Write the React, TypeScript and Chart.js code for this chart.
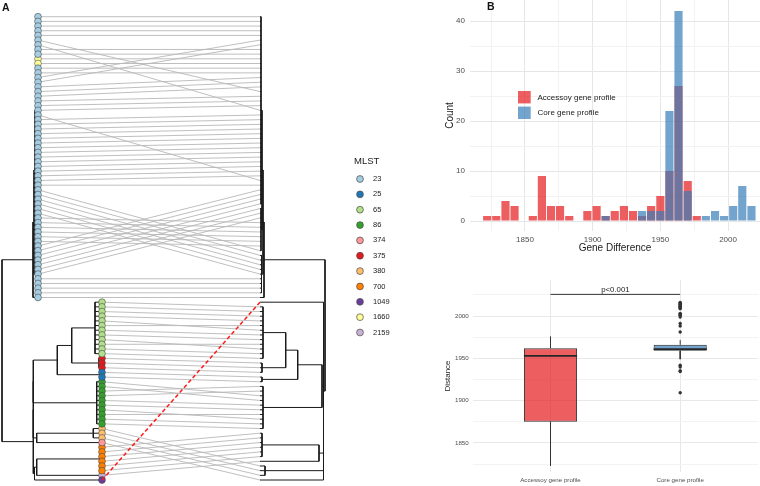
import React, { useEffect, useRef } from 'react';
import { Chart, registerables } from 'chart.js';

Chart.register(...registerables);

const FONT = '"Liberation Sans", Arial, Helvetica, sans-serif';

// ---------------- Panel B (top): histogram of gene differences ----------------
const binCenters = [1822.1, 1828.8, 1835.6, 1842.3, 1849.0, 1855.8, 1862.5, 1869.2, 1875.9, 1882.7, 1889.4, 1896.1, 1902.9, 1909.6, 1916.3, 1923.1, 1929.8, 1936.5, 1943.2, 1950.0, 1956.7, 1963.4, 1970.2, 1976.9, 1983.6, 1990.4, 1997.1, 2003.8, 2010.5, 2017.3];
const accessoryCounts = [1, 1, 4, 3, 0, 1, 9, 3, 3, 1, 0, 2, 3, 1, 2, 3, 2, 1, 3, 5, 10, 27, 8, 1, 0, 0, 0, 0, 0, 0];
const coreCounts = [0, 0, 0, 0, 0, 0, 0, 0, 0, 0, 0, 0, 0, 1, 0, 0, 0, 2, 2, 2, 22, 42, 6, 0, 1, 2, 1, 3, 7, 3];
const histXTickLabels = [1850, 1900, 1950, 2000];
const histYTickLabels = [0, 10, 20, 30, 40];
const seriesNames = ['Accessoy gene profile', 'Core gene profile'];

// ---------------- Panel B (bottom): boxplot of distances ----------------
const boxGroups = ['Accessoy gene profile', 'Core gene profile'];
const boxQ1 = [1875, 1959];
const boxMedian = [1953, 1960.8];
const boxQ3 = [1962, 1966];
const whiskerLow = [1823, 1949];
const whiskerHigh = [1976, 1971.5];
const coreOutliers = [2016.2, 2015.0, 2013.8, 2012.8, 2011.8, 2011.0, 2010.4, 2009.5, 2008.6, 2003.2, 2002.0, 2000.8, 1998.8, 1991.3, 1988.2, 1981.1, 1941.8, 1939.7, 1935.4, 1934.3, 1909.3];
const boxYTickLabels = [1850, 1900, 1950, 2000];
const pValueLabel = 'p<0.001';
const pBracketY = 2025.6;
const pLabelY = 2031.5;

// ---------------- Panel A: tanglegram ----------------
const mlstTypes = ['23', '25', '65', '86', '374', '375', '380', '700', '1049', '1660', '2159'];
const mlstColors = ['#A6CEE3', '#1F78B4', '#B2DF8A', '#33A02C', '#FB9A99', '#E31A1C', '#FDBF6F', '#FF7F00', '#6A3D9A', '#FFFF99', '#CAB2D6'];
// MLST of the left-tree tips, top to bottom (run length: type, count)
const tipRuns: [string, number][] = [['23', 9], ['1660', 2], ['23', 50], ['65', 12], ['375', 3], ['25', 2], ['86', 10], ['380', 3], ['374', 1], ['700', 6], ['2159', 1], ['1049', 1]];
// left tip index found at each position of the right tree (top to bottom)
const rightOrder = [
  0, 1, 2, 3, 4, 13, 14, 7, 8, 9, 10, 11, 12, 15, 16, 17, 5, 18, 19, 20,
  6, 22, 23, 24, 25, 26, 27, 28, 29, 30, 31, 32, 33, 34, 35, 21, 36, 49, 50, 51,
  52, 53, 54, 55, 43, 44, 45, 46, 47, 48, 37, 38, 39, 40, 41, 42, 56, 57, 58, 59,
  60, 99, 61, 62, 63, 64, 66, 65, 67, 68, 70, 69, 71, 72, 73, 74, 75, 76, 77, 80,
  81, 78, 79, 82, 83, 85, 84, 86, 87, 92, 93, 94, 95, 96, 97, 98, 88, 89, 90, 91,
];
const highlightedTip = 99;

type Child = number | TreeNode;
interface TreeNode { x: number; c: Child[]; t?: number }
const nd = (x: number, c: Child[], t?: number): TreeNode => ({ x, c, t });
const tipRange = (a: number, b: number): number[] => {
  const r: number[] = [];
  for (let k = a; k <= b; k++) r.push(k);
  return r;
};

// left phylogram (root on the left); x = node depth, t = depth of its leaves
const leftTree = nd(2, [
  nd(33, [
    nd(34, [
      nd(35, [nd(36, tipRange(0, 40), 38), nd(36.5, tipRange(41, 50), 38)]),
      nd(35.5, tipRange(51, 59), 38),
    ]),
    60,
  ], 38),
  nd(33.3, [
    nd(33.3, [
      nd(33.3, [
        nd(57.3, [
          nd(71.7, [nd(95, tipRange(61, 72), 102), nd(99, tipRange(73, 75), 102)]),
          nd(100, tipRange(76, 77), 102),
        ]),
        nd(96.7, tipRange(78, 87), 102),
      ]),
      nd(36.7, [nd(93.3, tipRange(88, 90), 102), 91], 102),
    ]),
    nd(34.5, [nd(36.7, [nd(100, tipRange(92, 97), 102), 98], 102), 99], 102),
  ]),
]);

// right dendrogram (leaves on the left at 260, root on the right)
const rightTree = nd(325, [
  nd(264, [
    nd(263, [
      nd(262, [nd(261, tipRange(0, 40), 260), nd(261, tipRange(41, 50), 260)]),
      nd(261.5, tipRange(51, 59), 260),
    ]),
    60,
  ], 260),
  nd(323.5, [
    61,
    nd(322, [
      nd(297.7, [
        nd(285.7, [nd(263, tipRange(62, 73), 260), nd(262, tipRange(74, 76), 260)]),
        nd(262, tipRange(77, 78), 260),
      ]),
      nd(263, tipRange(79, 88), 260),
    ]),
    nd(319, [nd(262, tipRange(89, 94), 260), 95], 260),
    nd(265, tipRange(96, 98), 260),
    99,
  ], 260),
]);

type Pt = { x: number | null; y: number | null };

function layoutTree(n: TreeNode, segs: Pt[], leafX: Map<number, number>): { x: number; y: number } {
  const kids = n.c.map((ch) => {
    if (typeof ch === 'number') {
      const lx = n.t ?? n.x;
      leafX.set(ch, lx);
      return { x: lx, y: ch };
    }
    return layoutTree(ch, segs, leafX);
  });
  const ys = kids.map((k) => k.y);
  const y0 = Math.min(...ys);
  const y1 = Math.max(...ys);
  segs.push({ x: n.x, y: y0 }, { x: n.x, y: y1 }, { x: null, y: null });
  kids.forEach((k) => {
    if (k.x !== n.x) segs.push({ x: n.x, y: k.y }, { x: k.x, y: k.y }, { x: null, y: null });
  });
  return { x: n.x, y: (y0 + y1) / 2 };
}

const RED = 'rgba(228,26,28,0.7)';
const BLUE = 'rgba(55,126,184,0.7)';

const zeroPad = (s: any) => {
  s.paddingTop = 0;
  s.paddingBottom = 0;
  s.paddingLeft = 0;
  s.paddingRight = 0;
};

const mlstLegendPlugin = {
  id: 'mlstLegend',
  afterDraw(chart: any) {
    const ctx = chart.ctx as CanvasRenderingContext2D;
    ctx.save();
    ctx.textBaseline = 'middle';
    ctx.fillStyle = '#1a1a1a';
    ctx.font = `9.5px ${FONT}`;
    ctx.fillText('MLST', 354, 161.5);
    mlstTypes.forEach((t, k) => {
      const y = 179 + k * 15.35;
      ctx.beginPath();
      ctx.arc(360, y, 3.4, 0, Math.PI * 2);
      ctx.fillStyle = mlstColors[k];
      ctx.fill();
      ctx.lineWidth = 0.7;
      ctx.strokeStyle = '#4a4a4a';
      ctx.stroke();
      ctx.fillStyle = '#1a1a1a';
      ctx.font = `7.5px ${FONT}`;
      ctx.fillText(t, 373, y);
    });
    ctx.restore();
  },
};

const histLegendPlugin = {
  id: 'histLegend',
  afterDraw(chart: any) {
    const ctx = chart.ctx as CanvasRenderingContext2D;
    const left = chart.chartArea.left;
    ctx.save();
    ctx.textBaseline = 'middle';
    [RED, BLUE].forEach((c, k) => {
      const y = 91 + k * 15.6;
      ctx.fillStyle = c;
      ctx.fillRect(left + 48, y, 12.7, 12.4);
      ctx.fillStyle = '#1a1a1a';
      ctx.font = `8px ${FONT}`;
      ctx.fillText(seriesNames[k], left + 67.5, y + 6.3);
    });
    ctx.restore();
  },
};

const pLabelPlugin = {
  id: 'pLabel',
  afterDatasetsDraw(chart: any) {
    const ctx = chart.ctx as CanvasRenderingContext2D;
    const x = chart.scales.x.getPixelForValue(1.5);
    const y = chart.scales.y.getPixelForValue(pLabelY);
    ctx.save();
    ctx.textAlign = 'center';
    ctx.textBaseline = 'middle';
    ctx.fillStyle = '#1a1a1a';
    ctx.font = `7.8px ${FONT}`;
    ctx.fillText(pValueLabel, x, y);
    ctx.restore();
  },
};

export default function App() {
  const treeRef = useRef<HTMLCanvasElement>(null);
  const histRef = useRef<HTMLCanvasElement>(null);
  const boxRef = useRef<HTMLCanvasElement>(null);

  useEffect(() => {
    const charts: Chart[] = [];

    // ---------- tanglegram ----------
    const tipType: string[] = [];
    tipRuns.forEach(([t, n]) => { for (let k = 0; k < n; k++) tipType.push(t); });
    const leftSegs: Pt[] = [];
    const leftX = new Map<number, number>();
    layoutTree(leftTree, leftSegs, leftX);
    const rightSegs: Pt[] = [];
    const rightX = new Map<number, number>();
    layoutTree(rightTree, rightSegs, rightX);

    const links: Pt[] = [];
    const redLink: Pt[] = [];
    rightOrder.forEach((i, p) => {
      const seg = [{ x: leftX.get(i) as number, y: i }, { x: rightX.get(p) as number, y: p }];
      if (i === highlightedTip) redLink.push(...seg);
      else links.push(...seg, { x: null, y: null });
    });

    const tipDatasets = mlstTypes.map((t, k) => ({
      type: 'scatter' as const,
      label: t,
      data: tipType.map((tt, i) => (tt === t ? { x: leftX.get(i) as number, y: i } : null)).filter(Boolean),
      backgroundColor: mlstColors[k],
      borderColor: '#4a4a4a',
      borderWidth: 0.6,
      pointRadius: 3.4,
      order: 1,
    }));

    const lineDs = (data: Pt[], color: string, width: number, order: number, dash: number[] = []) => ({
      type: 'scatter' as const,
      data,
      showLine: true,
      spanGaps: false,
      borderColor: color,
      borderWidth: width,
      borderDash: dash,
      pointRadius: 0,
      pointHoverRadius: 0,
      order,
    });

    charts.push(new Chart(treeRef.current as HTMLCanvasElement, {
      type: 'scatter',
      data: {
        datasets: [
          lineDs(links, '#b8b8b8', 0.9, 4),
          lineDs(leftSegs, '#1a1a1a', 1, 3),
          lineDs(rightSegs, '#1a1a1a', 1, 3),
          ...tipDatasets,
          lineDs(redLink, '#ff1a1a', 1.5, 0, [4, 2.5]),
        ] as any,
      },
      options: {
        responsive: false,
        animation: false,
        events: [],
        layout: { padding: 0, autoPadding: false },
        plugins: { legend: { display: false }, tooltip: { enabled: false } },
        scales: {
          x: { type: 'linear', display: false, min: 0, max: 440 },
          y: { type: 'linear', display: false, reverse: true, min: -3.57, max: 100.28 },
        },
      } as any,
      plugins: [mlstLegendPlugin],
    }));

    // ---------- histogram ----------
    charts.push(new Chart(histRef.current as HTMLCanvasElement, {
      type: 'bar',
      data: {
        datasets: [
          {
            label: seriesNames[0],
            data: binCenters.map((x, k) => ({ x, y: accessoryCounts[k] })),
            backgroundColor: RED,
            borderWidth: 0,
            grouped: false,
            barPercentage: 0.9,
            categoryPercentage: 1,
            order: 1,
          },
          {
            label: seriesNames[1],
            data: binCenters.map((x, k) => ({ x, y: coreCounts[k] })),
            backgroundColor: BLUE,
            borderWidth: 0,
            grouped: false,
            barPercentage: 0.9,
            categoryPercentage: 1,
            order: 0,
          },
        ] as any,
      },
      options: {
        responsive: false,
        animation: false,
        events: [],
        layout: { padding: 0, autoPadding: false },
        plugins: { legend: { display: false }, tooltip: { enabled: false } },
        scales: {
          x: {
            type: 'linear',
            min: 1809.4,
            max: 2023.6,
            offset: false,
            border: { display: false },
            grid: {
              offset: false,
              drawTicks: false,
              color: (c: any) => (histXTickLabels.includes(c.tick.value) ? '#e6e6e6' : '#f2f2f2'),
            },
            ticks: {
              stepSize: 25,
              includeBounds: false,
              autoSkip: false,
              maxRotation: 0,
              padding: 4,
              color: '#4d4d4d',
              font: { size: 8, family: FONT },
              callback: (v: any) => (histXTickLabels.includes(v) ? String(v) : ''),
            },
            title: { display: true, text: 'Gene Difference', color: '#1a1a1a', font: { size: 10, family: FONT }, padding: { top: 0, bottom: 2 } },
            afterFit: (s: any) => { s.height = 25; zeroPad(s); },
          },
          y: {
            type: 'linear',
            min: -2,
            max: 44.2,
            border: { display: false },
            grid: {
              drawTicks: false,
              color: (c: any) => (histYTickLabels.includes(c.tick.value) ? '#e6e6e6' : '#f2f2f2'),
            },
            ticks: {
              stepSize: 5,
              includeBounds: false,
              autoSkip: false,
              padding: 5,
              color: '#4d4d4d',
              font: { size: 8, family: FONT },
              callback: (v: any) => (histYTickLabels.includes(v) ? String(v) : ''),
            },
            title: { display: true, text: 'Count', color: '#1a1a1a', font: { size: 10, family: FONT }, padding: { top: 4, bottom: 0 } },
            afterFit: (s: any) => { s.width = 30; zeroPad(s); },
          },
        },
      } as any,
      plugins: [histLegendPlugin],
    }));

    // ---------- boxplot ----------
    const medianSegs: Pt[] = [];
    const whiskerSegs: Pt[] = [];
    boxGroups.forEach((_, k) => {
      const x = k + 1;
      medianSegs.push({ x: x - 0.205, y: boxMedian[k] }, { x: x + 0.205, y: boxMedian[k] }, { x: null, y: null });
      whiskerSegs.push({ x, y: boxQ3[k] }, { x, y: whiskerHigh[k] }, { x: null, y: null });
      whiskerSegs.push({ x, y: boxQ1[k] }, { x, y: whiskerLow[k] }, { x: null, y: null });
    });
    const bracket: Pt[] = [{ x: 1, y: pBracketY }, { x: 2, y: pBracketY }];

    charts.push(new Chart(boxRef.current as HTMLCanvasElement, {
      type: 'bar',
      data: {
        datasets: [
          {
            type: 'scatter',
            data: coreOutliers.map((y) => ({ x: 2, y })),
            backgroundColor: '#333333',
            borderWidth: 0,
            pointRadius: 1.7,
            order: 0,
          },
          { ...lineDs(medianSegs, '#262626', 1.8, 1) },
          {
            type: 'bar',
            data: boxGroups.map((_, k) => ({ x: k + 1, y: [boxQ1[k], boxQ3[k]] })),
            backgroundColor: [RED, BLUE],
            borderColor: '#333333',
            borderWidth: 1,
            borderSkipped: false,
            barPercentage: 0.41,
            categoryPercentage: 1,
            order: 2,
          },
          { ...lineDs(whiskerSegs, '#333333', 1, 3) },
          { ...lineDs(bracket, '#333333', 1, 3) },
        ] as any,
      },
      options: {
        responsive: false,
        animation: false,
        events: [],
        layout: { padding: { top: 10, right: 2, left: 0, bottom: 0 }, autoPadding: false },
        plugins: { legend: { display: false }, tooltip: { enabled: false } },
        scales: {
          x: {
            type: 'linear',
            min: 0.4,
            max: 2.6,
            offset: false,
            border: { display: false },
            grid: { offset: false, drawTicks: false, color: '#e8e8e8' },
            afterBuildTicks: (s: any) => { s.ticks = [{ value: 1 }, { value: 2 }]; },
            ticks: {
              autoSkip: false,
              maxRotation: 0,
              padding: 5,
              color: '#4d4d4d',
              font: { size: 6.2, family: FONT },
              callback: (v: any) => boxGroups[Math.round(v) - 1] ?? '',
            },
            afterFit: (s: any) => { s.height = 14; zeroPad(s); },
          },
          y: {
            type: 'linear',
            min: 1815.6,
            max: 2042.6,
            border: { display: false },
            grid: {
              drawTicks: false,
              color: (c: any) => (boxYTickLabels.includes(c.tick.value) ? '#e8e8e8' : '#f3f3f3'),
            },
            ticks: {
              stepSize: 25,
              includeBounds: false,
              autoSkip: false,
              padding: 4,
              color: '#4d4d4d',
              font: { size: 6.2, family: FONT },
              callback: (v: any) => (boxYTickLabels.includes(v) ? String(v) : ''),
            },
            title: { display: true, text: 'Distance', color: '#1a1a1a', font: { size: 8, family: FONT }, padding: { top: 12.5, bottom: 0 } },
            afterFit: (s: any) => { s.width = 42.7; zeroPad(s); },
          },
        },
      } as any,
      plugins: [pLabelPlugin],
    }));

    return () => charts.forEach((c) => c.destroy());
  }, []);

  const labelStyle: React.CSSProperties = {
    position: 'absolute',
    fontFamily: FONT,
    fontWeight: 'bold',
    fontSize: 10.5,
    lineHeight: '12px',
    color: '#111',
  };

  return (
    <div style={{ position: 'absolute', left: 0, top: 0, width: 760, height: 486, background: '#ffffff', overflow: 'hidden' }}>
      <canvas ref={treeRef} width={440} height={486} style={{ position: 'absolute', left: 0, top: 0 }} />
      <canvas ref={histRef} width={320} height={256} style={{ position: 'absolute', left: 440, top: 0 }} />
      <canvas ref={boxRef} width={330} height={216} style={{ position: 'absolute', left: 430, top: 270 }} />
      <span style={{ ...labelStyle, left: 2, top: 1 }}>A</span>
      <span style={{ ...labelStyle, left: 487, top: 0 }}>B</span>
    </div>
  );
}
